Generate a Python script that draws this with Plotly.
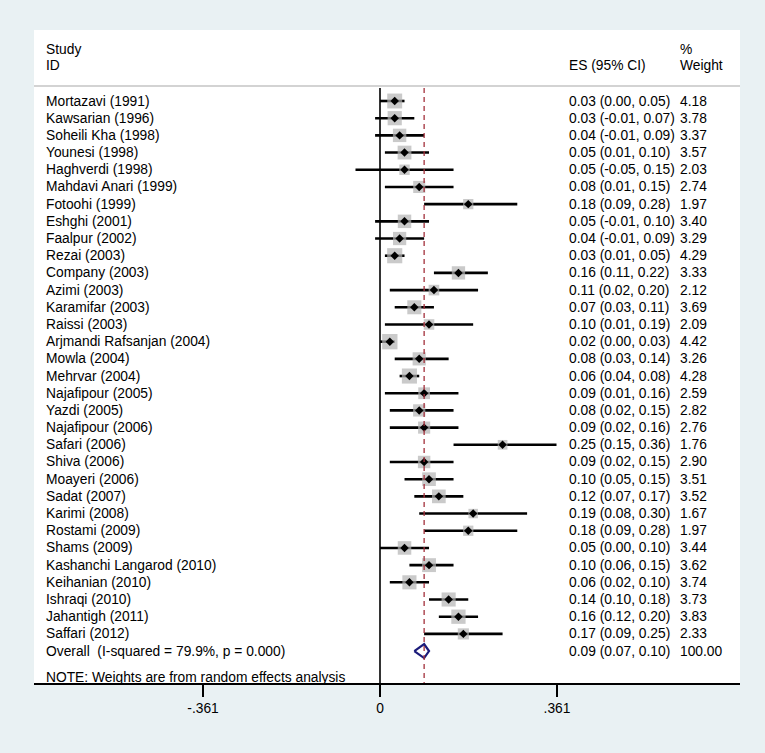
import plotly.graph_objects as go

studies = ["Mortazavi (1991)", "Kawsarian (1996)", "Soheili Kha (1998)", "Younesi (1998)",
           "Haghverdi (1998)", "Mahdavi Anari (1999)", "Fotoohi (1999)", "Eshghi (2001)",
           "Faalpur (2002)", "Rezai (2003)", "Company (2003)", "Azimi (2003)",
           "Karamifar (2003)", "Raissi (2003)", "Arjmandi Rafsanjan (2004)", "Mowla (2004)",
           "Mehrvar (2004)", "Najafipour (2005)", "Yazdi (2005)", "Najafipour (2006)",
           "Safari (2006)", "Shiva (2006)", "Moayeri (2006)", "Sadat (2007)",
           "Karimi (2008)", "Rostami (2009)", "Shams (2009)", "Kashanchi Langarod (2010)",
           "Keihanian (2010)", "Ishraqi (2010)", "Jahantigh (2011)", "Saffari (2012)"]
es = [0.03, 0.03, 0.04, 0.05, 0.05, 0.08, 0.18, 0.05, 0.04, 0.03, 0.16, 0.11,
      0.07, 0.10, 0.02, 0.08, 0.06, 0.09, 0.08, 0.09, 0.25, 0.09, 0.10, 0.12,
      0.19, 0.18, 0.05, 0.10, 0.06, 0.14, 0.16, 0.17]
lo = [0.00, -0.01, -0.01, 0.01, -0.05, 0.01, 0.09, -0.01, -0.01, 0.01, 0.11, 0.02,
      0.03, 0.01, 0.00, 0.03, 0.04, 0.01, 0.02, 0.02, 0.15, 0.02, 0.05, 0.07,
      0.08, 0.09, 0.00, 0.06, 0.02, 0.10, 0.12, 0.09]
hi = [0.05, 0.07, 0.09, 0.10, 0.15, 0.15, 0.28, 0.10, 0.09, 0.05, 0.22, 0.20,
      0.11, 0.19, 0.03, 0.14, 0.08, 0.16, 0.15, 0.16, 0.36, 0.15, 0.15, 0.17,
      0.30, 0.28, 0.10, 0.15, 0.10, 0.18, 0.20, 0.25]
weights = [4.18, 3.78, 3.37, 3.57, 2.03, 2.74, 1.97, 3.40, 3.29, 4.29, 3.33, 2.12,
           3.69, 2.09, 4.42, 3.26, 4.28, 2.59, 2.82, 2.76, 1.76, 2.90, 3.51, 3.52,
           1.67, 1.97, 3.44, 3.62, 3.74, 3.73, 3.83, 2.33]
overall_label = "Overall\u00a0\u00a0(I-squared = 79.9%, p = 0.000)"
overall_es, overall_lo, overall_hi, overall_w = 0.09, 0.07, 0.10, 100.00
tick_vals = [-0.361, 0, 0.361]
tick_text = ["-.361", "0", ".361"]
note_text = "NOTE: Weights are from random effects analysis"

# ---- geometry helpers (pixel -> axis units) ----
W, H = 765, 753
PL, PR, PT, PB = 34, 740, 30, 683          # white plot region in px
X0PX, SCALE = 380.0, 490.3                 # px of x=0, px per unit
ROW0, ROWH = 101.0, 17.19                  # px of first row, px per row
BG = "#e9f1f3"

def xu(px):
    return (px - X0PX) / SCALE

def yu(py):
    return (py - ROW0) / ROWH

n = len(studies)
rows = list(range(n))
overall_row = n

FONT = "Liberation Sans, Arial, sans-serif"
FS = 13.8

fig = go.Figure()

# CI lines
cx, cy = [], []
for i, (a, b) in enumerate(zip(lo, hi)):
    cx += [a, b, None]
    cy += [i, i, None]
fig.add_trace(go.Scatter(x=cx, y=cy, mode="lines",
                         line=dict(color="black", width=2.6),
                         hoverinfo="skip", showlegend=False))

# weight boxes
fig.add_trace(go.Scatter(x=es, y=rows, mode="markers",
                         marker=dict(symbol="square", color="#b4b4b4",
                                     size=[7.3 * w ** 0.5 for w in weights],
                                     line=dict(width=0)),
                         hoverinfo="skip", showlegend=False))
# point estimates
fig.add_trace(go.Scatter(x=es, y=rows, mode="markers",
                         marker=dict(symbol="diamond", color="black", size=6.5,
                                     line=dict(width=0)),
                         hoverinfo="skip", showlegend=False))

# overall diamond
dh = 7.0 / ROWH
fig.add_trace(go.Scatter(
    x=[overall_lo, overall_es, overall_hi, overall_es, overall_lo],
    y=[overall_row, overall_row - dh, overall_row, overall_row + dh, overall_row],
    mode="lines", line=dict(color="#1b1b7a", width=2.2),
    hoverinfo="skip", showlegend=False))

shapes = []
# header separator
shapes.append(dict(type="line", xref="paper", yref="y", x0=0, x1=1,
                   y0=yu(86), y1=yu(86), line=dict(color="#c4c4c4", width=1.6)))
# null line
shapes.append(dict(type="line", xref="x", yref="y", x0=0, x1=0,
                   y0=yu(88), y1=yu(PB), line=dict(color="black", width=1.6)))
# overall dashed line
shapes.append(dict(type="line", xref="x", yref="y", x0=overall_es, x1=overall_es,
                   y0=yu(88), y1=yu(PB), line=dict(color="#a3303c", width=1.3, dash="5px,4px")))

ann = []
def txt(xpx, ypx_or_row, s, is_row=False):
    ann.append(dict(x=xu(xpx), y=(ypx_or_row if is_row else yu(ypx_or_row)),
                    xref="x", yref="y", text=s, showarrow=False,
                    xanchor="left", yanchor="middle",
                    font=dict(family=FONT, size=FS, color="black")))

txt(44, 49, "Study")
txt(44, 65, "ID")
txt(567, 65, "ES (95% CI)")
txt(678, 49, "%")
txt(678, 65, "Weight")

for i in rows:
    txt(44, i, studies[i], True)
    txt(567, i, f"{es[i]:.2f} ({lo[i]:.2f}, {hi[i]:.2f})", True)
    txt(678, i, f"{weights[i]:.2f}", True)
txt(44, overall_row, overall_label, True)
txt(567, overall_row, f"{overall_es:.2f} ({overall_lo:.2f}, {overall_hi:.2f})", True)
txt(678, overall_row, f"{overall_w:.2f}", True)
txt(44, 677, note_text)

fig.update_layout(
    width=W, height=H,
    margin=dict(l=PL, r=W - PR, t=PT, b=H - PB, pad=0),
    paper_bgcolor=BG, plot_bgcolor="white",
    shapes=shapes, annotations=ann,
    xaxis=dict(range=[xu(PL), xu(PR)], tickvals=tick_vals, ticktext=tick_text,
               ticks="outside", ticklen=12, tickwidth=1.5, tickcolor="black",
               showgrid=False, zeroline=False, showline=True, linecolor="black",
               linewidth=1.6, tickfont=dict(family=FONT, size=FS, color="black"),
               fixedrange=True),
    yaxis=dict(range=[yu(PB), yu(PT)], showticklabels=False, showgrid=False,
               zeroline=False, showline=False, ticks="", fixedrange=True),
    font=dict(family=FONT),
)

fig.write_html("out.html",
               config={"displayModeBar": False},
               post_script="document.body.style.margin='0';"
                           "document.body.style.background='" + BG + "';"
                           "document.body.style.overflow='hidden';")
